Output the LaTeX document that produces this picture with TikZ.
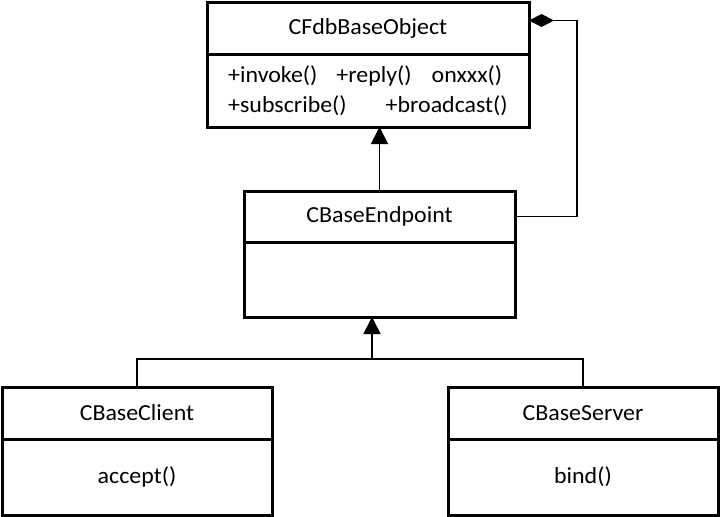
\documentclass[tikz,border=0pt]{standalone}
\usepackage{fontspec}
\setmainfont{Carlito}[FakeStretch=1.04]
\usetikzlibrary{arrows.meta,calc,positioning}

\begin{document}
\begin{tikzpicture}[x=1pt, y=-1pt, node distance=0pt,
    every node/.style={font=\fontsize{23}{30}\selectfont, outer sep=0pt},
    classhead/.style={draw, line width=3pt, minimum height=51pt, inner sep=0pt},
    classbody/.style={draw, line width=3pt, inner sep=0pt, align=left},
    inherit/.style={-{Triangle[length=17pt,width=17pt]}, line width=1.8pt},
    owner/.style={{Diamond[length=25pt,width=13pt]}-, line width=1.8pt}]
    \useasboundingbox (0,0) rectangle (721,517);

    \node[classhead, minimum width=322pt, minimum height=52pt] (base) at (368,28) {CFdbBaseObject};
    \node[classbody, minimum width=322pt, minimum height=73pt, below=of base] (basebody) {+invoke()\hspace{19pt}+reply()\hspace{20pt}onxxx()\\+subscribe()\hspace{39pt}+broadcast()};

    \node[classhead, minimum width=271pt] (endpoint) at (379.5,216.5) {CBaseEndpoint};
    \node[classbody, minimum width=271pt, minimum height=75pt, below=of endpoint] (endpointbody) {};

    \node[classhead, minimum width=270pt, minimum height=52pt] (client) at (137,413) {CBaseClient};
    \node[classbody, minimum width=270pt, minimum height=76pt, below=of client] (clientbody) {accept()};
    \node[classhead, minimum width=270pt, minimum height=52pt] (server) at (583,413) {CBaseServer};
    \node[classbody, minimum width=270pt, minimum height=76pt, below=of server] (serverbody) {bind()};

    \coordinate (fork) at ($(endpointbody.south)+(-7.5,42)$);
    \coordinate (ownerend) at ($(base.north east)+(0,18.5)$);

    \draw[inherit] (endpoint.north) -- (endpoint.north |- basebody.south);
    \draw[inherit] (fork) -- (fork |- endpointbody.south);
    \draw[line width=1.8pt] (client.north) |- (fork) -| (server.north);
    \draw[owner] (ownerend) -- ++(48,0) |- (endpoint.east);
\end{tikzpicture}
\end{document}
